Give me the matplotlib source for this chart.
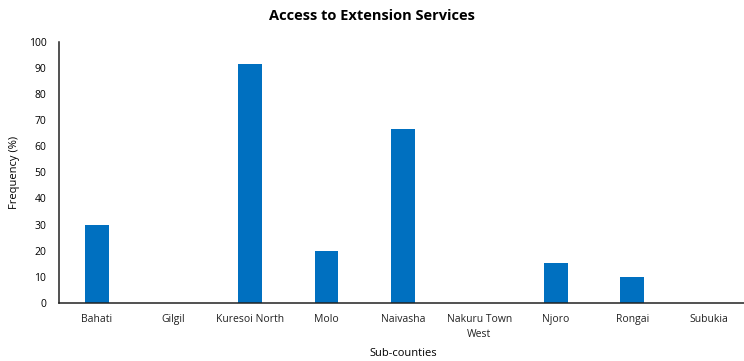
import numpy as np
import matplotlib.pyplot as plt

plt.rcParams['font.family'] = ['Open Sans', 'DejaVu Sans']

sub_counties = ['Bahati', 'Gilgil', 'Kuresoi North', 'Molo', 'Naivasha',
                'Nakuru Town\nWest', 'Njoro', 'Rongai', 'Subukia']
access = [30, 0, 91.7, 20, 66.7, 0, 15.4, 10, 0]

fig = plt.figure(figsize=(7.44, 3.61), dpi=100)
ax = fig.add_axes([0.079, 0.161, 0.925, 0.723])

x = np.arange(len(sub_counties))
ax.bar(x, access, width=0.31, color='#0070C0')

ax.set_xlim(-0.5, len(sub_counties) - 0.5)
ax.set_ylim(0, 100)
ax.set_yticks(np.arange(0, 101, 10))
ax.set_xticks(x)
ax.set_xticklabels(sub_counties, fontsize=7.5, color='#222222', linespacing=1.45)
ax.tick_params(axis='both', length=0, labelsize=7.5)
ax.tick_params(axis='x', pad=8)
ax.tick_params(axis='y', pad=9)

for s in ['top', 'right']:
    ax.spines[s].set_visible(False)
for s in ['left', 'bottom']:
    ax.spines[s].set_linewidth(1.1)
    ax.spines[s].set_color('#222222')

ax.set_xlabel('Sub-counties', fontsize=8, labelpad=6)
ax.set_ylabel('Frequency (%)', fontsize=8, labelpad=6)
fig.suptitle('Access to Extension Services', fontsize=10.5, fontweight='bold', y=0.975)

fig.savefig('out.png', dpi=100)
